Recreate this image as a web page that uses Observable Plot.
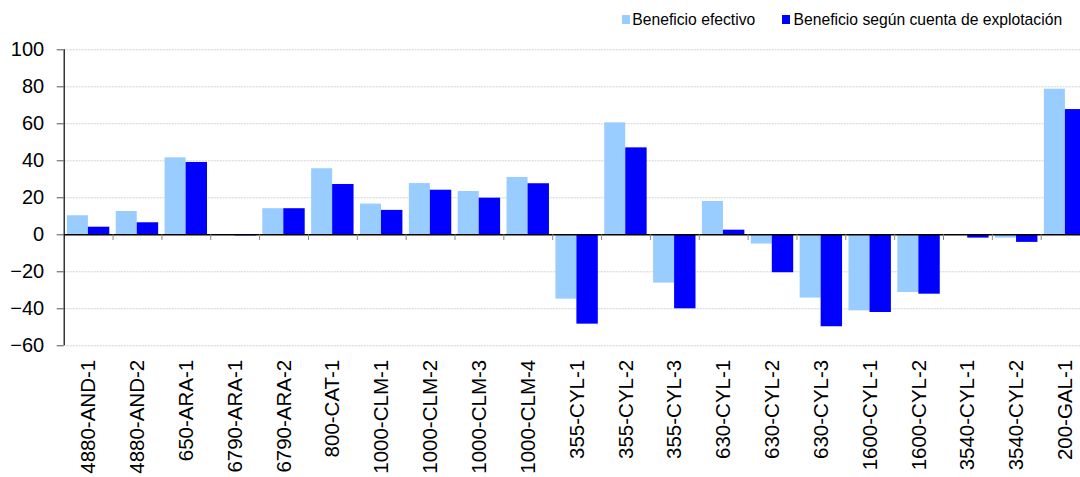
<!DOCTYPE html>
<html>
<head>
<meta charset="utf-8">
<script src="https://cdn.jsdelivr.net/npm/d3@7"></script>
<script src="https://cdn.jsdelivr.net/npm/@observablehq/plot@0.6"></script>
<style>
  html, body { margin: 0; padding: 0; background: white; overflow: hidden; }
  #wrap { position: relative; width: 1080px; height: 477px; overflow: hidden; font-family: "Liberation Sans", Arial, sans-serif; }
  .sw { position: absolute; top: 14.5px; width: 8px; height: 9.5px; }
  .lt { position: absolute; top: 11.7px; font-size: 15.7px; line-height: 1; color: #000; white-space: nowrap; }
</style>
</head>
<body>
<div id="wrap"></div>
<script>
const categories = ["4880-AND-1","4880-AND-2","650-ARA-1","6790-ARA-1","6790-ARA-2","800-CAT-1","1000-CLM-1","1000-CLM-2","1000-CLM-3","1000-CLM-4","355-CYL-1","355-CYL-2","355-CYL-3","630-CYL-1","630-CYL-2","630-CYL-3","1600-CYL-1","1600-CYL-2","3540-CYL-1","3540-CYL-2","200-GAL-1"];
const beneficioEfectivo = [10.3, 12.6, 41.6, -0.3, 14.1, 35.7, 16.6, 27.7, 23.4, 31.0, -34.8, 60.5, -26.1, 18.0, -5.0, -34.2, -41.1, -31.2, 0, -1.8, 78.7];
const beneficioCuenta = [4.1, 6.5, 39.1, -0.6, 14.1, 27.2, 13.2, 24.1, 19.8, 27.6, -48.3, 47.0, -40.0, 2.5, -20.5, -49.7, -42.0, -32.1, -1.8, -4.1, 67.7];
const seriesNames = ["Beneficio efectivo", "Beneficio según cuenta de explotación"];
const seriesColors = ["#99CCFF", "#0000FF"];
const yTicks = [-60, -40, -20, 0, 20, 40, 60, 80, 100];

const rows = categories.map((c, i) => ({cat: c, a: beneficioEfectivo[i], b: beneficioCuenta[i]}));

const x0 = 63.7, bw = 48.85;
const chart = Plot.plot({
  width: 1080,
  height: 477,
  marginLeft: x0,
  marginRight: 0,
  marginTop: 49.3,
  marginBottom: 131.7,
  style: {fontFamily: "'Liberation Sans', Arial, sans-serif", background: "white", color: "black"},
  x: {type: "band", domain: categories, range: [x0, x0 + bw * categories.length], padding: 0, round: false, axis: null},
  y: {domain: [-60, 100], range: [345.3, 49.3], axis: null},
  marks: [
    Plot.ruleY(yTicks.filter(t => t !== 0), {stroke: "#d2d2d2", strokeDasharray: "2,1", strokeWidth: 1}),
    Plot.barY(rows, {x: "cat", y: "a", fill: seriesColors[0], insetLeft: 3.2, insetRight: 24.65}),
    Plot.barY(rows, {x: "cat", y: "b", fill: seriesColors[1], insetLeft: 24.2, insetRight: 3.25}),
    Plot.ruleY([0], {stroke: "black", strokeWidth: 1.4}),
    Plot.ruleX(categories.slice(1), {x: d => d, y1: 0, y2: -3.1, dx: -bw / 2, stroke: "#888", strokeWidth: 1}),
    Plot.ruleX([categories[0]], {x: d => d, y1: -60, y2: 100, dx: -bw / 2, stroke: "black", strokeWidth: 1.2}),
    Plot.axisY({ticks: yTicks, anchor: "left", tickSize: 7, tickPadding: 13, fontSize: 20, stroke: "#555", fill: "black", label: null}),
    Plot.axisX({anchor: "bottom", tickRotate: -90, tickSize: 0, tickPadding: 14, fontSize: 20.5, fill: "black", label: null})
  ]
});

const wrap = document.getElementById("wrap");
wrap.appendChild(chart);

const legendPos = [{sq: 621.7, tx: 632.3}, {sq: 781.7, tx: 793.5}];
seriesNames.forEach((name, i) => {
  const sq = document.createElement("div");
  sq.className = "sw";
  sq.style.left = legendPos[i].sq + "px";
  sq.style.background = seriesColors[i];
  wrap.appendChild(sq);
  const t = document.createElement("div");
  t.className = "lt";
  t.style.left = legendPos[i].tx + "px";
  t.textContent = name;
  wrap.appendChild(t);
});
</script>
</body>
</html>
